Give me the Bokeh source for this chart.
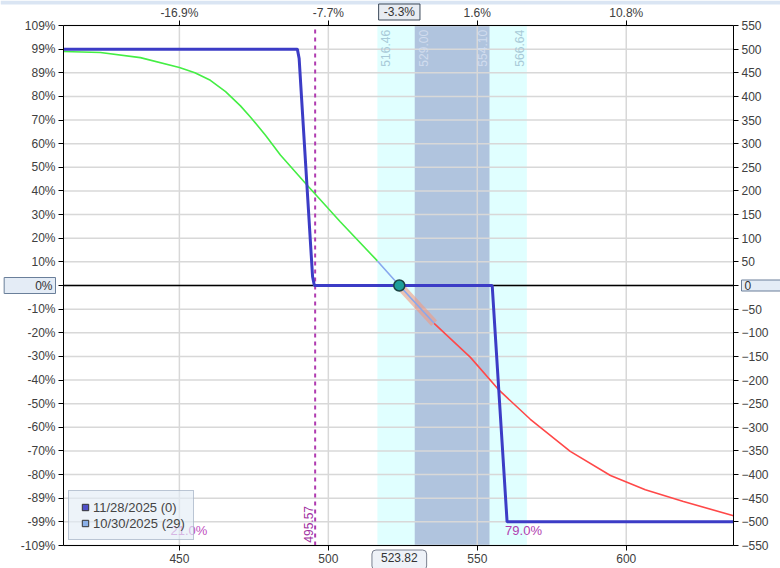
import numpy as np
from bokeh.plotting import figure
from bokeh.models import Range1d, LinearAxis, FixedTicker, Label, Legend, LegendItem
from bokeh.embed import file_html
from bokeh.resources import INLINE
from bokeh.core.properties import value

# ---------------- data ----------------
x_ticks = [450, 500, 550, 600]
x_top_labels = ["-16.9%", "-7.7%", "1.6%", "10.8%"]
y_ticks = [-550, -500, -450, -400, -350, -300, -250, -200, -150, -100, -50, 0,
           50, 100, 150, 200, 250, 300, 350, 400, 450, 500, 550]
y_pct_labels = ["-109%", "-99%", "-89%", "-80%", "-70%", "-60%", "-50%", "-40%", "-30%", "-20%", "-10%", "0%",
                "10%", "20%", "30%", "40%", "50%", "60%", "70%", "80%", "89%", "99%", "109%"]

# expiration (11/28/2025) P&L
price_exp = [411.1, 489.6, 490.2, 494.7, 495.3, 555.0, 560.0, 636.0]
pnl_exp = [500, 500, 480, 19, 0, 0, -500, -500]

# T+29 (10/30/2025) P&L
price_t29 = [411.1, 423.5, 436.9, 450.0, 455.2, 460.4, 465.5, 470.5, 473.9, 478.9, 483.9, 492.6, 504.0,
             516.46, 523.82, 535.5, 547.7, 557.4, 567.8, 581.2, 594.7, 606.4, 619.2, 636.0]
pnl_t29 = [495, 493, 482, 461, 450, 434, 410, 380, 356, 318, 276, 214, 135,
           52, 0, -80, -152, -222, -283, -351, -402, -432, -457, -487]
t29_red_from = 535.5

current_price = 523.82
current_pct = "-3.3%"
outer_band = [516.46, 566.64]
inner_band = [529.00, 554.10]
breakeven = 495.57
prob_left = "21.0%"
prob_left_x = 447
prob_right = "79.0%"
prob_right_x = 560.0
legend_labels = ["11/28/2025 (0)", "10/30/2025 (29)"]

FONT = "Liberation Sans"
X0, X1 = 411.1, 636.0      # plotted price range
Y0, Y1 = -550, 550         # plotted P&L range

# ---------------- layout: frame covers the whole canvas, axes at fixed locations ----------------
W, H = 780, 568
PL, PR, PT, PB = 63, 733, 25, 545   # plot-area edges in pixels
sx = (X1 - X0) / (PR - PL)
sy = (Y1 - Y0) / (PB - PT)
xr = Range1d(X0 - PL * sx, X1 + (W - PR) * sx)
yr = Range1d(Y0 - (H - PB) * sy, Y1 + PT * sy)

p = figure(width=W, height=H, x_range=xr, y_range=yr,
           output_backend="svg", toolbar_location=None, min_border=0,
           background_fill_color="white", border_fill_color="white", outline_line_color=None)
p.grid.visible = False


def style(ax):
    ax.axis_line_color = "black"
    ax.axis_line_width = 1
    ax.major_tick_line_color = "black"
    ax.major_tick_out = 5
    ax.major_tick_in = 0
    ax.minor_tick_line_color = None
    ax.major_label_text_font = FONT
    ax.major_label_text_font_size = "12px"
    ax.major_label_text_color = "#404040"
    ax.major_label_standoff = 3


bottom_ax = p.below[0]
bottom_ax.ticker = FixedTicker(ticks=x_ticks)
bottom_ax.fixed_location = Y0
bottom_ax.bounds = (X0, X1)
style(bottom_ax)

left_ax = p.left[0]
left_ax.ticker = FixedTicker(ticks=y_ticks)
ov = {t: l for t, l in zip(y_ticks, y_pct_labels)}
ov[0] = ""
left_ax.major_label_overrides = ov
left_ax.fixed_location = X0
left_ax.bounds = (Y0, Y1)
style(left_ax)

top_ax = LinearAxis(ticker=FixedTicker(ticks=x_ticks), fixed_location=Y1, bounds=(X0, X1),
                    major_label_overrides={t: l for t, l in zip(x_ticks, x_top_labels)})
style(top_ax)
top_ax.major_label_standoff = 1
p.add_layout(top_ax, "above")

right_ax = LinearAxis(ticker=FixedTicker(ticks=y_ticks), fixed_location=X1, bounds=(Y0, Y1),
                      major_label_overrides={0: ""})
style(right_ax)
p.add_layout(right_ax, "right")

# thin header strip at the very top of the window
p.quad(left=[xr.start], right=[xr.end], bottom=[yr.end - 4 * sy], top=[yr.end],
       fill_color="#dae5f3", line_color=None, level="image")

# shaded ranges
p.quad(left=[outer_band[0]], right=[outer_band[1]], bottom=[Y0], top=[Y1],
       fill_color="#e0ffff", line_color=None, level="image")
p.quad(left=[inner_band[0]], right=[inner_band[1]], bottom=[Y0], top=[Y1],
       fill_color="#b0c4de", line_color=None, level="image")

# grid lines inside the plot area
p.segment(x0=x_ticks, y0=[Y0] * len(x_ticks), x1=x_ticks, y1=[Y1] * len(x_ticks),
          line_color="#d8d8d8", line_width=1.5, level="underlay")
p.segment(x0=[X0] * len(y_ticks), y0=y_ticks, x1=[X1] * len(y_ticks), y1=y_ticks,
          line_color="#d8d8d8", line_width=1.5, level="underlay")

# zero line and breakeven line
p.segment(x0=[X0], y0=[0], x1=[X1], y1=[0], line_color="black", line_width=1.5)
p.segment(x0=[breakeven], y0=[Y0], x1=[breakeven], y1=[Y1], line_color="#b03cb0",
          line_dash="4 4", line_width=2)

# T+29 curve, coloured by zone
pt = np.array(price_t29)
vt = np.array(pnl_t29)
mg = pt <= outer_band[0]
mb = (pt >= outer_band[0]) & (pt <= t29_red_from)
mr = pt >= t29_red_from
mp = (pt >= current_price) & (pt <= t29_red_from)
p.line(pt[mr], vt[mr], line_color="#ff4848", line_width=1.6)
p.line(pt[mp], vt[mp], line_color="#f29a80", line_width=8, line_alpha=0.6)
p.line(pt[mg], vt[mg], line_color="#44ee44", line_width=1.6)
p.line(pt[mb], vt[mb], line_color="#88a8ee", line_width=1.6)

# expiration curve
p.line(price_exp, pnl_exp, line_color="#3c3cc6", line_width=3)

p.scatter([current_price], [0], size=11, fill_color="#1e9e9a", line_color="#1a4444", line_width=1.5)

# vertical labels of the shaded ranges
lab_y = 463
for v, off, col in [(outer_band[0], 8, "#a8cad8"), (inner_band[0], 9, "#d0dcee"),
                    (inner_band[1], -7, "#d0dcee"), (outer_band[1], -7, "#a8cad8")]:
    p.text(x=[v], y=[lab_y], text=[f"{v:.2f}"], angle=np.pi / 2, x_offset=off,
           text_align="left", text_baseline="middle", text_font=value(FONT),
           text_font_size="12px", text_color=col)

p.text(x=[breakeven], y=[-544], text=[f"{breakeven:.2f}"], angle=np.pi / 2, x_offset=-7,
       text_align="left", text_baseline="middle", text_font=value(FONT),
       text_font_size="12px", text_color="#a030a0")

p.text(x=[prob_left_x], y=[-518], text=[prob_left], text_align="left", text_baseline="middle",
       text_font=value(FONT), text_font_size="13px", text_color="#c050c0")
p.text(x=[prob_right_x], y=[-518], text=[prob_right], text_align="left", text_baseline="middle",
       x_offset=-2, text_font=value(FONT), text_font_size="13px", text_color="#b040b0")

# legend swatches (hidden renderers, used only for the legend glyphs)
r1 = p.scatter(x=[current_price], y=[0], marker="square", size=9, fill_color="#5050c8",
               line_color="#333333", visible=False)
r2 = p.scatter(x=[current_price], y=[0], marker="square", size=9, fill_color="#8ab0e8",
               line_color="#333333", visible=False)
legend = Legend(items=[LegendItem(label=legend_labels[0], renderers=[r1], index=0),
                       LegendItem(label=legend_labels[1], renderers=[r2], index=0)],
                location=(68, H - 540), background_fill_color="#e4ecf6", background_fill_alpha=0.65,
                border_line_color="#8898b0", border_line_width=1,
                label_text_font=FONT, label_text_font_size="13px", label_text_color="#444444",
                glyph_width=16, glyph_height=16, spacing=0, padding=8, margin=0, label_standoff=0,
                label_height=14)
p.add_layout(legend)

# boxed value labels on the axes
p.add_layout(Label(x=current_price, y=Y1 + 13.5 * sy, text=current_pct, text_align="center",
                   text_baseline="middle", background_fill_color="#e8ecf2", border_line_color="#3c4a5a",
                   padding=dict(left=5, right=5, top=1, bottom=1),
                   text_font=FONT, text_font_size="12px", text_color="#333333"))
p.add_layout(Label(x=current_price, y=Y0 - 14.5 * sy, text=f"{current_price:.2f}", text_align="center",
                   text_baseline="middle", background_fill_color="#eef2f8", border_line_color="#7a8090",
                   padding=dict(left=9, right=9, top=3, bottom=8), border_radius=4,
                   text_font=FONT, text_font_size="12px", text_color="#333333"))
p.add_layout(Label(x=X0, y=0, x_offset=-8, text="0%", text_align="right", text_baseline="middle",
                   background_fill_color="#e4ecf6", border_line_color="#6a7f9a",
                   padding=dict(left=31, right=3, top=1, bottom=1),
                   text_font=FONT, text_font_size="12px", text_color="#333333"))
p.add_layout(Label(x=X1, y=0, x_offset=8, text="0", text_align="left", text_baseline="middle",
                   background_fill_color="#e4ecf6", border_line_color="#6a7f9a",
                   padding=dict(left=3, right=32, top=1, bottom=1),
                   text_font=FONT, text_font_size="12px", text_color="#333333"))

open("out.html", "w").write(file_html(p, INLINE))
